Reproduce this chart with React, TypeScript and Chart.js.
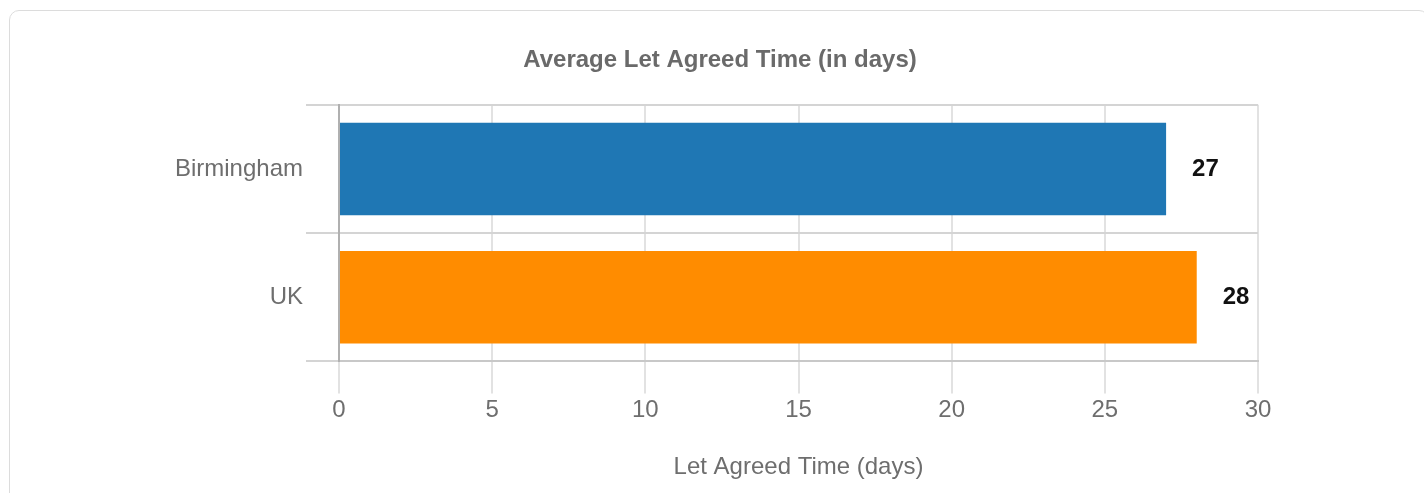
import React, { useEffect, useRef } from "react";
import { Chart, registerables } from "chart.js";

Chart.register(...registerables);

const categories = ["Birmingham", "UK"];
const values = [27, 28];
const barColors = ["#1f77b4", "#ff8c00"];
const xMin = 0;
const xMax = 30;
const xStep = 5;
const chartTitle = "Average Let Agreed Time (in days)";
const xAxisTitle = "Let Agreed Time (days)";

const FONT = "'Liberation Sans', Arial, sans-serif";

const valueLabelPlugin = {
  id: "valueLabels",
  afterDatasetsDraw(chart: any) {
    const ctx = chart.ctx;
    const meta = chart.getDatasetMeta(0);
    ctx.save();
    ctx.font = `bold 24px ${FONT}`;
    ctx.fillStyle = "#111";
    ctx.textAlign = "left";
    ctx.textBaseline = "middle";
    meta.data.forEach((el: any, i: number) => {
      ctx.fillText(String(values[i]), el.x + 26, el.y);
    });
    ctx.restore();
  },
};

export default function App() {
  const ref = useRef<HTMLCanvasElement | null>(null);
  useEffect(() => {
    if (!ref.current) return;
    const chart = new Chart(ref.current, {
      type: "bar",
      data: {
        labels: categories,
        datasets: [
          {
            data: values,
            backgroundColor: barColors,
            borderWidth: 0,
          },
        ],
      },
      plugins: [valueLabelPlugin],
      options: {
        animation: false,
        responsive: false,
        indexAxis: "y",
        layout: { padding: { left: 162, right: 160, top: 0, bottom: 0 } },
        plugins: {
          legend: { display: false },
          tooltip: { enabled: false },
          title: {
            display: true,
            text: chartTitle,
            color: "#6a6a6a",
            font: { family: FONT, size: 24, weight: "bold" },
            padding: { top: 35, bottom: 30 },
          },
        },
        scales: {
          x: {
            type: "linear",
            min: xMin,
            max: xMax,
            afterFit: (s: any) => {
              s.paddingRight = 170;
            },
            ticks: {
              stepSize: xStep,
              color: "#6e6e6e",
              padding: 3,
              font: { family: FONT, size: 24 },
            },
            grid: { color: "#e2e2e2", lineWidth: 2, tickLength: 32 },
            border: { color: "#c8c8c8", width: 2 },
            title: {
              display: true,
              text: xAxisTitle,
              color: "#6e6e6e",
              font: { family: FONT, size: 24 },
              padding: { top: 25, bottom: 11 },
            },
          },
          y: {
            type: "category",
            afterFit: (s: any) => {
              s.width = 167;
            },
            ticks: {
              color: "#6e6e6e",
              padding: 3,
              font: { family: FONT, size: 24 },
            },
            grid: { color: "#d4d4d4", lineWidth: 2, tickLength: 33, offset: true },
            border: { color: "#b0b0b0", width: 2 },
          },
        },
      },
    } as any);
    return () => chart.destroy();
  }, []);

  return (
    <div
      style={{
        position: "fixed",
        left: 9,
        top: 10,
        width: 1420,
        height: 500,
        border: "1px solid #dcdcdc",
        borderRadius: 10,
        boxSizing: "border-box",
        background: "#fff",
        overflow: "hidden",
      }}
    >
      <canvas ref={ref} width={1418} height={482} style={{ display: "block" }} />
    </div>
  );
}
